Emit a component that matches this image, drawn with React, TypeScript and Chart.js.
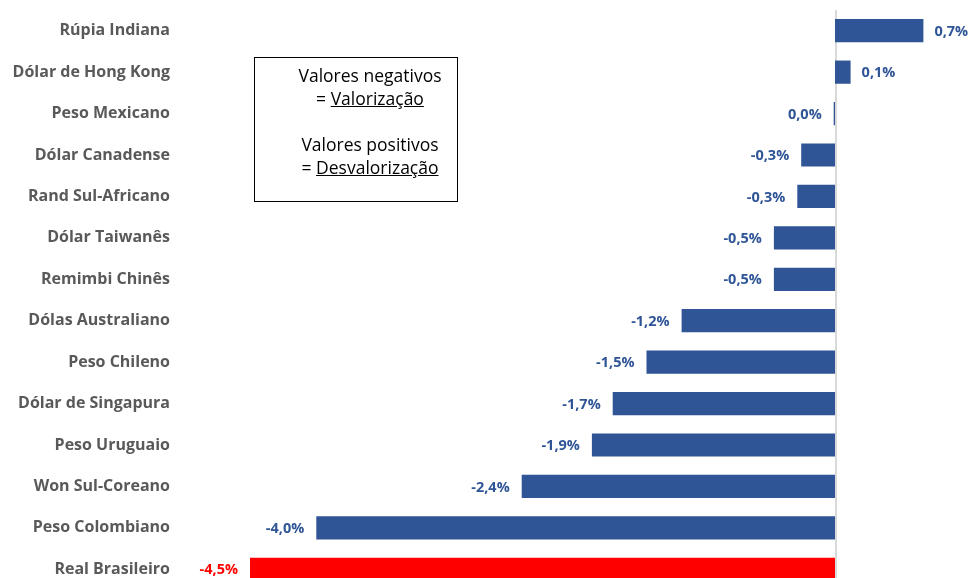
import React, { useEffect, useRef } from "react";
import { Chart, registerables } from "chart.js";

Chart.register(...registerables);

const categories = [
  "Rúpia Indiana",
  "Dólar de Hong Kong",
  "Peso Mexicano",
  "Dólar Canadense",
  "Rand Sul-Africano",
  "Dólar Taiwanês",
  "Remimbi Chinês",
  "Dólas Australiano",
  "Peso Chileno",
  "Dólar de Singapura",
  "Peso Uruguaio",
  "Won Sul-Coreano",
  "Peso Colombiano",
  "Real Brasileiro",
];

const values = [0.68, 0.12, -0.01, -0.26, -0.29, -0.47, -0.47, -1.18, -1.45, -1.71, -1.87, -2.41, -3.99, -4.5];

const valueLabels = ["0,7%", "0,1%", "0,0%", "-0,3%", "-0,3%", "-0,5%", "-0,5%", "-1,2%", "-1,5%", "-1,7%", "-1,9%", "-2,4%", "-4,0%", "-4,5%"];

const BLUE = "#2F5597";
const RED = "#FF0000";
const highlight = "Real Brasileiro";
const FONT = "'Open Sans', 'Noto Sans', sans-serif";

export default function App() {
  const ref = useRef<HTMLCanvasElement | null>(null);

  useEffect(() => {
    if (!ref.current) return;
    const colors = categories.map((c) => (c === highlight ? RED : BLUE));

    const zeroLine = {
      id: "zeroLine",
      beforeDatasetsDraw(chart: any) {
        const ctx = chart.ctx;
        const x = chart.scales.x.getPixelForValue(0);
        ctx.save();
        ctx.strokeStyle = "#D9D9D9";
        ctx.lineWidth = 2;
        ctx.beginPath();
        ctx.moveTo(x + 1, chart.chartArea.top);
        ctx.lineTo(x + 1, chart.chartArea.bottom);
        ctx.stroke();
        ctx.restore();
      },
    };

    const labelPlugin = {
      id: "valueLabels",
      afterDatasetsDraw(chart: any) {
        const ctx = chart.ctx;
        const meta = chart.getDatasetMeta(0);
        ctx.save();
        ctx.font = `bold 14.5px ${FONT}`;
        ctx.textBaseline = "middle";
        meta.data.forEach((bar: any, i: number) => {
          const v = values[i];
          ctx.fillStyle = colors[i];
          if (v >= 0) {
            ctx.textAlign = "left";
            ctx.fillText(valueLabels[i], bar.x + 11, bar.y + 1);
          } else {
            ctx.textAlign = "right";
            ctx.fillText(valueLabels[i], bar.x - 12, bar.y + 1);
          }
        });
        ctx.restore();
      },
    };

    const chart = new Chart(ref.current, {
      type: "bar",
      data: {
        labels: categories,
        datasets: [
          {
            data: values,
            backgroundColor: colors,
            borderWidth: 0,
            barPercentage: 0.56,
            categoryPercentage: 1,
          },
        ],
      },
      options: {
        indexAxis: "y",
        animation: false,
        responsive: false,
        maintainAspectRatio: false,
        layout: { padding: { top: 10, bottom: 0, left: 0, right: 6 } },
        plugins: {
          legend: { display: false },
          tooltip: { enabled: false },
        },
        scales: {
          x: {
            display: false,
            min: -5,
            max: 1,
          },
          y: {
            afterFit: (s: any) => {
              s.width = 185;
              s.paddingTop = 0;
              s.paddingBottom = 0;
            },
            border: { display: false },
            grid: { display: false, drawTicks: false },
            ticks: {
              padding: 15,
              color: "#595959",
              font: { family: FONT, size: 16, weight: "bold" },
            },
          },
        },
      },
      plugins: [zeroLine, labelPlugin],
    });
    return () => chart.destroy();
  }, []);

  return (
    <div style={{ position: "fixed", left: 0, top: 0, width: 971, height: 590, background: "#fff" }}>
      <canvas ref={ref} width={971} height={590} style={{ display: "block" }} />
      <div
        style={{
          position: "absolute",
          left: 254,
          top: 57,
          width: 174,
          height: 137,
          border: "1px solid #000",
          boxSizing: "content-box",
          fontFamily: FONT,
          fontSize: 17.5,
          color: "#000",
          textAlign: "center",
          lineHeight: "23px",
          paddingTop: 6,
          paddingLeft: 28,
          whiteSpace: "nowrap",
        }}
      >
        <div>Valores negativos</div>
        <div>
          = <u>Valorização</u>
        </div>
        <div style={{ height: 23 }} />
        <div>Valores positivos</div>
        <div>
          = <u>Desvalorização</u>
        </div>
      </div>
    </div>
  );
}
